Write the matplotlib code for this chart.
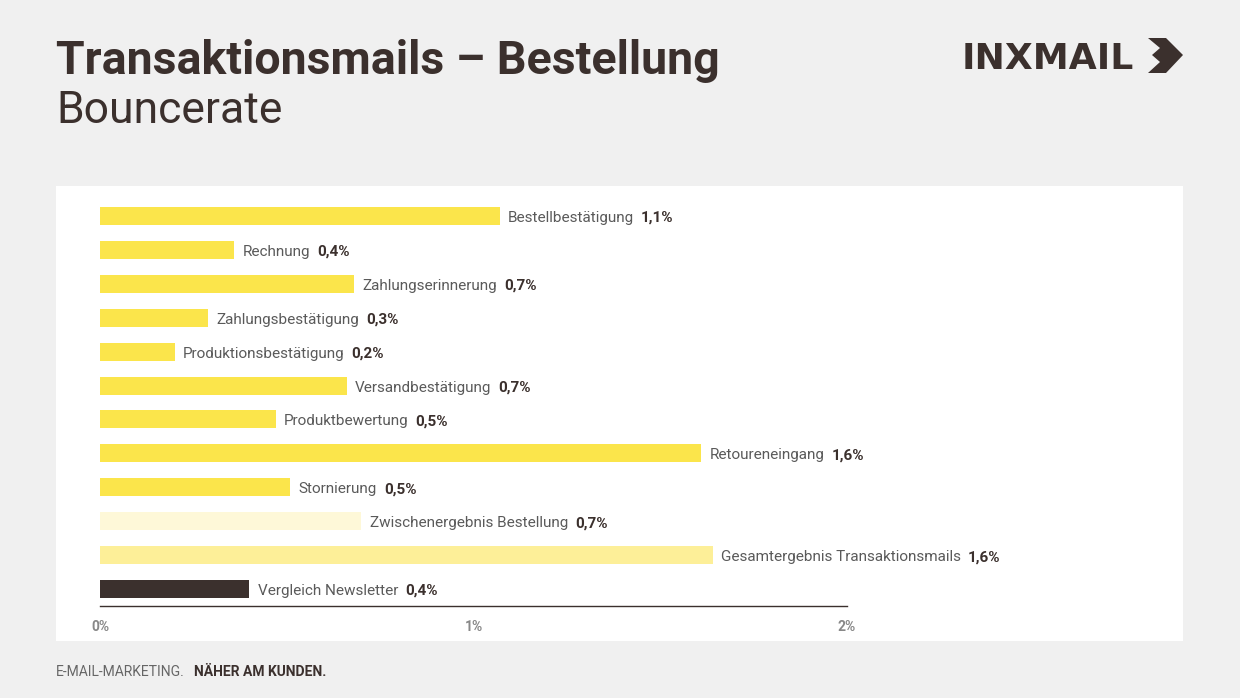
import matplotlib
matplotlib.use("Agg")
import matplotlib.pyplot as plt
from matplotlib.patches import Rectangle, Polygon
from matplotlib.font_manager import fontManager

# data
categories = ["Bestellbestätigung", "Rechnung", "Zahlungserinnerung", "Zahlungsbestätigung",
              "Produktionsbestätigung", "Versandbestätigung", "Produktbewertung", "Retoureneingang",
              "Stornierung", "Zwischenergebnis Bestellung", "Gesamtergebnis Transaktionsmails",
              "Vergleich Newsletter"]
values = [1.07, 0.36, 0.68, 0.29, 0.20, 0.66, 0.47, 1.61, 0.51, 0.70, 1.64, 0.40]
value_labels = ["1,1%", "0,4%", "0,7%", "0,3%", "0,2%", "0,7%", "0,5%", "1,6%",
                "0,5%", "0,7%", "1,6%", "0,4%"]
xticks = [0, 1, 2]
xtick_labels = ["0%", "1%", "2%"]

yellow = "#fbe54b"
colors = [yellow] * 9 + ["#fef8d8", "#fdef98", "#3b302d"]
dark = "#3b302d"
grey = "#5a5a5a"

names = {f.name for f in fontManager.ttflist}
cond = "Liberation Sans Narrow" if "Liberation Sans Narrow" in names else "Roboto"
plt.rcParams["font.family"] = [cond, "DejaVu Sans"]

fig = plt.figure(figsize=(12.4, 6.98), dpi=100)
fig.patch.set_facecolor("#f0f0f0")

# white panel behind the chart
panel = Rectangle((56 / 1240, 1 - 641 / 698), (1183 - 56) / 1240, (641 - 186) / 698,
                  transform=fig.transFigure, facecolor="white", edgecolor="none", zorder=-5)
fig.patches.append(panel)

ax = fig.add_axes([100 / 1240, 1 - 606 / 698, (847 - 100) / 1240, 406 / 698])
ax.set_zorder(2)
ax.set_facecolor("none")
ypos = list(range(len(categories)))
ax.barh(ypos, values, height=0.53, color=colors, zorder=2)
ax.set_xlim(0, 2)
ax.set_ylim(11.5, -0.47)
for s in ["top", "right", "left"]:
    ax.spines[s].set_visible(False)
ax.spines["bottom"].set_color(dark)
ax.spines["bottom"].set_linewidth(1)
ax.set_yticks([])
ax.set_xticks(xticks)
ax.set_xticklabels(xtick_labels, fontsize=10, color="#888888", fontweight="bold")
ax.tick_params(axis="x", length=0, pad=10)

fig.canvas.draw()
r = fig.canvas.get_renderer()
for y, v, c, lab in zip(ypos, values, categories, value_labels):
    t = ax.annotate(c, (v, y), xytext=(6, -4.3), textcoords="offset points",
                    va="baseline", ha="left", fontsize=11, color=grey, annotation_clip=False)
    bb = t.get_window_extent(renderer=r)
    x_end = ax.transData.inverted().transform((bb.x1, bb.y0))[0]
    ax.annotate(lab, (x_end, y), xytext=(5, -4.3), textcoords="offset points",
                va="baseline", ha="left", fontsize=11, color=dark, fontweight="bold",
                annotation_clip=False)

# titles
fig.text(56 / 1240, 1 - 74 / 698, "Transaktionsmails – Bestellung", fontsize=33.5,
         fontweight="bold", color=dark, va="baseline")
fig.text(56 / 1240, 1 - 123 / 698, "Bouncerate", fontsize=32, color=dark, va="baseline")

# logo
fig.text(962 / 1240, 1 - 69 / 698, "INXMAIL", fontsize=26, fontweight="heavy",
         color=dark, va="baseline", family=["DejaVu Sans"])
pts = [(1148, 38), (1166, 38), (1183, 55), (1166, 73), (1148, 73), (1160, 62), (1152, 55), (1160, 48)]
fig.patches.append(Polygon([(x / 1240, 1 - y / 698) for x, y in pts], closed=True,
                           transform=fig.transFigure, facecolor=dark, edgecolor="none"))

# footer
t1 = fig.text(56 / 1240, 1 - 676 / 698, "E-MAIL-MARKETING.", fontsize=10, color="#666666",
              va="baseline")
fig.canvas.draw()
bb = t1.get_window_extent(renderer=r)
fig.text(bb.x1 / 1240 + 9 / 1240, 1 - 676 / 698, "NÄHER AM KUNDEN.", fontsize=10,
         fontweight="bold", color=dark, va="baseline")

fig.savefig("out.png", dpi=100, facecolor=fig.get_facecolor())
